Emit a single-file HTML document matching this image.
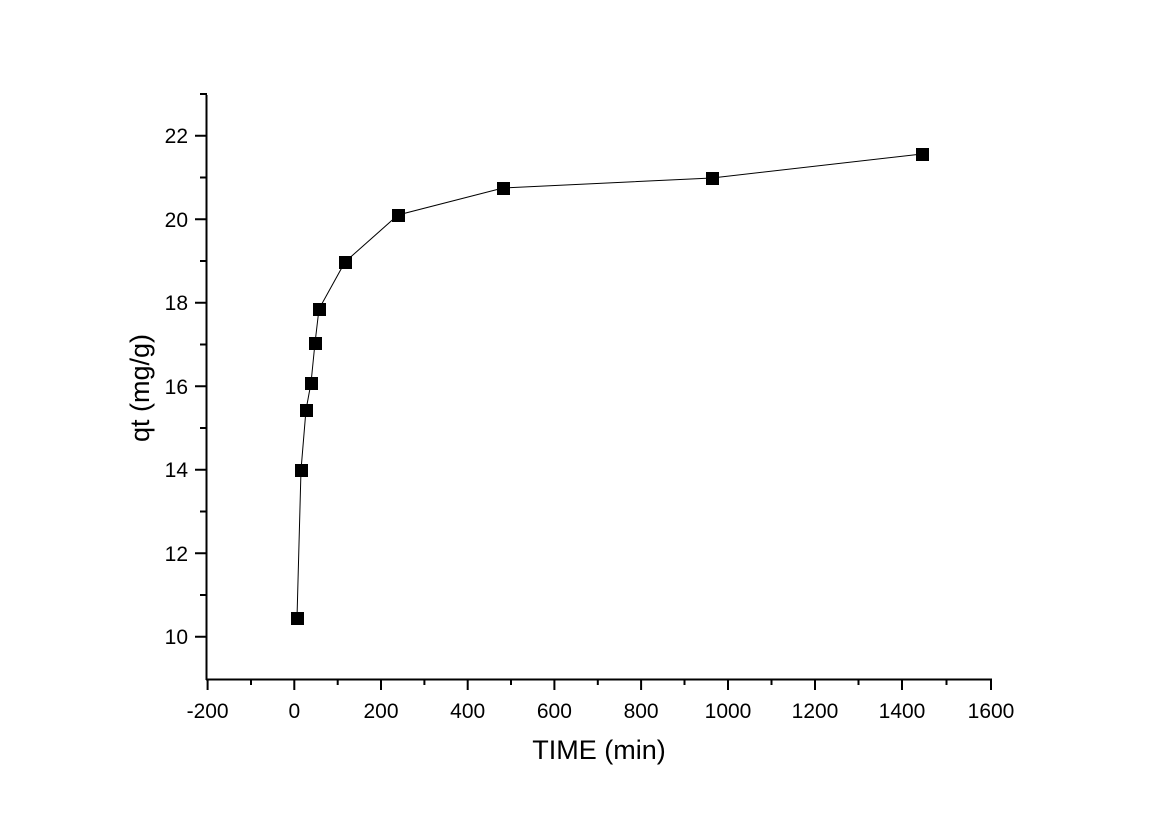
<!DOCTYPE html>
<html><head><style>body{margin:0;background:#fff}</style></head><body>
<svg width="1152" height="814" xmlns="http://www.w3.org/2000/svg" font-family="Liberation Sans, Arial, sans-serif">
<rect width="1152" height="814" fill="#fff"/>
<g stroke="#000" stroke-width="2" fill="none">
<line x1="206.5" y1="95" x2="206.5" y2="680"/>
<line x1="206" y1="679.5" x2="992" y2="679.5"/>
<path d="M207.6 679v11M294.3 679v11M381 679v11M467.7 679v11M554.4 679v11M641.1 679v11M728 679v11M815 679v11M902 679v11M991 679v11"/>
<path d="M251 679v6M337.7 679v6M424.4 679v6M511 679v6M597.8 679v6M684.5 679v6M771.5 679v6M858.5 679v6M946.5 679v6"/>
<path d="M195 636.7h12M195 553.2h12M195 469.7h12M195 386.2h12M195 302.7h12M195 219.2h12M195 135.7h12"/>
<path d="M200 595h7M200 511.5h7M200 428h7M200 344.5h7M200 261h7M200 177.5h7M200 94h7"/>
</g>
<g font-size="21" text-anchor="end">
<text x="188" y="644">10</text><text x="188" y="561">12</text><text x="188" y="477">14</text><text x="188" y="394">16</text><text x="188" y="310">18</text><text x="188" y="227">20</text><text x="188" y="143">22</text>
</g>
<g font-size="21" text-anchor="middle">
<text x="207.6" y="718">-200</text><text x="294.3" y="718">0</text><text x="381" y="718">200</text><text x="467.7" y="718">400</text><text x="554.4" y="718">600</text><text x="641.1" y="718">800</text><text x="728" y="718">1000</text><text x="815" y="718">1200</text><text x="902" y="718">1400</text><text x="991" y="718">1600</text>
</g>
<text x="599" y="759" font-size="27" text-anchor="middle">TIME (min)</text>
<text transform="translate(149,388) rotate(-90)" font-size="27" text-anchor="middle">qt (mg/g)</text>
<polyline fill="none" stroke="#000" stroke-width="1" points="297,618 301,470 306,410 311,383 315,343 319,309 345,262 398,215 503,188 712,178 922,154"/>
<g fill="#000">
<rect x="291" y="612" width="13" height="13"/><rect x="295" y="464" width="13" height="13"/><rect x="300" y="404" width="13" height="13"/><rect x="305" y="377" width="13" height="13"/><rect x="309" y="337" width="13" height="13"/><rect x="313" y="303" width="13" height="13"/><rect x="339" y="256" width="13" height="13"/><rect x="392" y="209" width="13" height="13"/><rect x="497" y="182" width="13" height="13"/><rect x="706" y="172" width="13" height="13"/><rect x="916" y="148" width="13" height="13"/>
</g>
</svg>
</body></html>
